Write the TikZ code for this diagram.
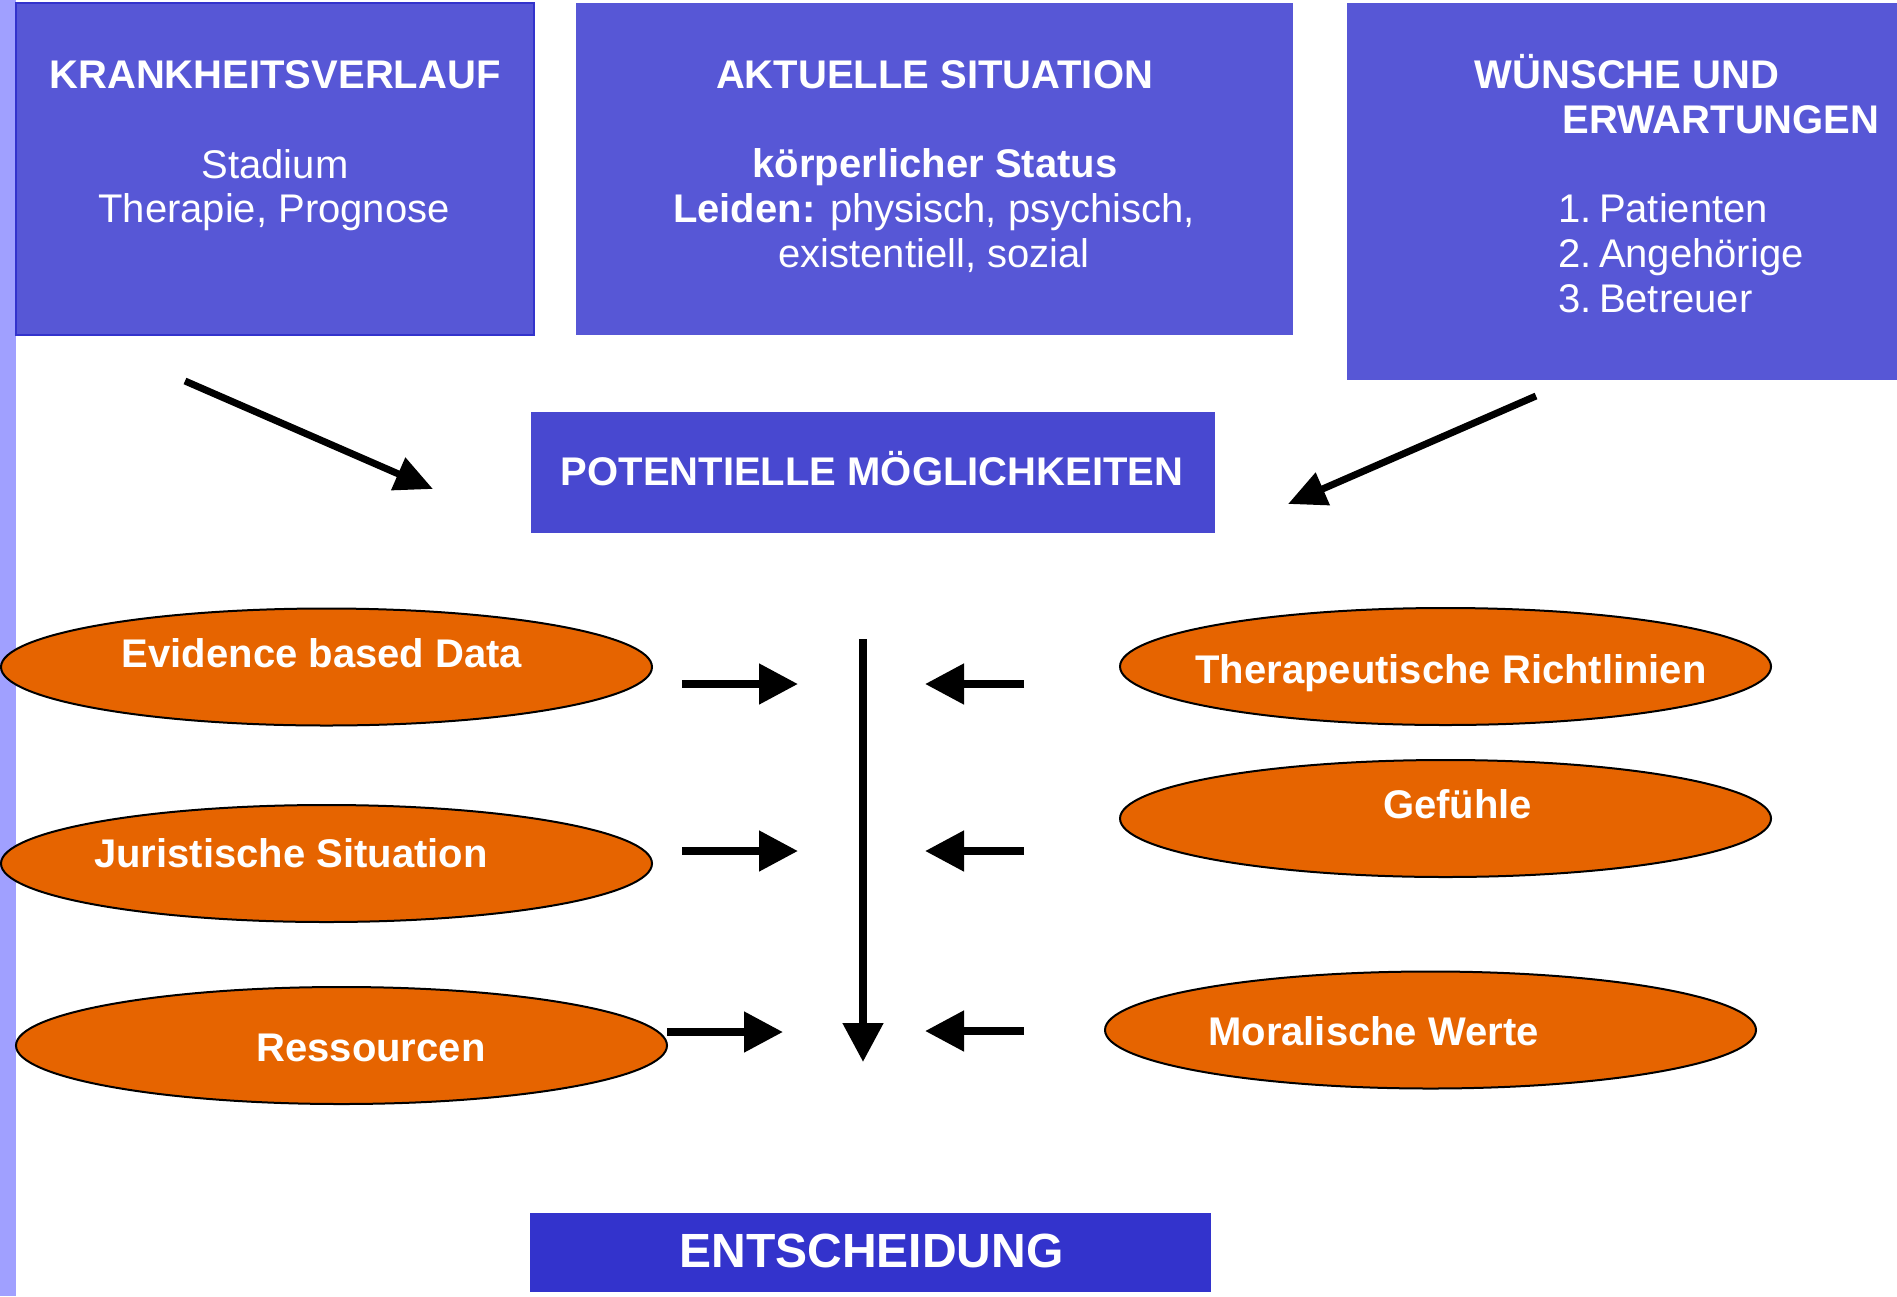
\documentclass[tikz,border=0pt]{standalone}
\usepackage{fontspec}
\setmainfont{Liberation Sans}
\usetikzlibrary{shapes.geometric,arrows.meta}
\definecolor{boxblue}{RGB}{87,87,214}
\definecolor{boxedge}{RGB}{51,51,204}
\definecolor{potblue}{RGB}{72,72,208}
\definecolor{entblue}{RGB}{51,51,204}
\definecolor{ovalorange}{RGB}{230,100,0}
\definecolor{stripblue}{RGB}{160,160,255}
\tikzset{
  bluebox/.style={rectangle, fill=boxblue, inner sep=0pt, anchor=center},
  oval/.style={ellipse, fill=ovalorange, draw=black, line width=2pt, inner sep=0pt, minimum width=651pt, minimum height=117pt},
  txt/.style={text=white, inner sep=0pt, anchor=base, font=\fontsize{40}{45}\selectfont},
  btxt/.style={txt, font=\fontsize{40}{45}\selectfont\bfseries},
  bigarrow/.style={line width=8pt, -{Triangle[length=39pt, width=39pt]}},
  diagarrow/.style={line width=7pt, -{Triangle[length=38pt, width=34pt]}}
}
\begin{document}
\begin{tikzpicture}[x=1pt,y=-1pt]
\useasboundingbox (0,0) rectangle (1897,1296);
\fill[white] (0,0) rectangle (1897,1296);
\fill[stripblue] (0,0) rectangle (16,1296);

% top boxes
\node[bluebox, draw=boxedge, line width=1.5pt, minimum width=518pt, minimum height=332pt] (b1) at (275,169) {};
\node[bluebox, minimum width=717pt, minimum height=332pt] (b2) at (934.5,169) {};
\node[bluebox, minimum width=550pt, minimum height=377pt] (b3) at (1622,191.5) {};

\node[btxt] (b1t) at (275,88) {KRANKHEITSVERLAUF};
\node[txt] (b1a) at (275,178) {Stadium};
\node[txt] (b1b) at (274,222) {Therapie, Prognose};

\node[btxt] (b2t) at (934.5,88) {AKTUELLE SITUATION};
\node[btxt] (b2a) at (935,177) {körperlicher Status};
\node[txt] (b2b) at (934,222) {\textbf{Leiden:} physisch, psychisch,};
\node[txt] (b2c) at (934,267) {existentiell, sozial};

\node[btxt] (b3t) at (1627,88) {WÜNSCHE UND};
\node[btxt] (b3u) at (1721,133) {ERWARTUNGEN};
\node[txt, anchor=base west] (b3a) at (1558,222) {1.\hspace{7.5pt}Patienten};
\node[txt, anchor=base west] (b3b) at (1558,267) {2.\hspace{7.5pt}Angehörige};
\node[txt, anchor=base west] (b3c) at (1558,312) {3.\hspace{7.5pt}Betreuer};

% middle box
\node[rectangle, fill=potblue, inner sep=0pt, minimum width=684pt, minimum height=121pt] (pot) at (873,472.5) {};
\node[btxt] (pott) at (872,485) {POTENTIELLE MÖGLICHKEITEN};

% bottom box
\node[rectangle, fill=entblue, inner sep=0pt, minimum width=681pt, minimum height=79pt] (ent) at (870.5,1252.5) {};
\node[txt, font=\fontsize{48}{52}\selectfont\bfseries] (entt) at (871.5,1267) {ENTSCHEIDUNG};

% ovals
\node[oval] (evd) at (326.5,667) {};
\node[btxt] (evdt) at (322,667) {Evidence based Data};
\node[oval] (jur) at (326.5,863.5) {};
\node[btxt] (jurt) at (291,867) {Juristische Situation};
\node[oval] (res) at (341.5,1045.5) {};
\node[btxt] (rest) at (371,1061) {Ressourcen};
\node[oval] (the) at (1445.5,666.5) {};
\node[btxt] (thet) at (1451,683) {Therapeutische Richtlinien};
\node[oval] (gef) at (1445.5,818.5) {};
\node[btxt] (geft) at (1457.5,818) {Gefühle};
\node[oval] (mor) at (1430.5,1030) {};
\node[btxt] (mort) at (1373.5,1045) {Moralische Werte};

% arrow end points
\coordinate (d1s) at (185,381);
\coordinate (d1e) at (433,489);
\coordinate (d2s) at (1536,396);
\coordinate (d2e) at (1288,504);
\coordinate (vs) at (863,639);
\coordinate (ve) at (863,1062);
\coordinate (r1s) at (682,684);
\coordinate (r1e) at (798,684);
\coordinate (r2s) at (682,851);
\coordinate (r2e) at (798,851);
\coordinate (r3s) at (667,1032);
\coordinate (r3e) at (783,1032);
\coordinate (l1s) at (1024,684);
\coordinate (l1e) at (925,684);
\coordinate (l2s) at (1024,851);
\coordinate (l2e) at (925,851);
\coordinate (l3s) at (1024,1031);
\coordinate (l3e) at (925,1031);

\draw[diagarrow] (d1s) -- (d1e);
\draw[diagarrow] (d2s) -- (d2e);
\draw[bigarrow] (vs) -- (ve);
\draw[bigarrow] (r1s) -- (r1e);
\draw[bigarrow] (r2s) -- (r2e);
\draw[bigarrow] (r3s) -- (r3e);
\draw[bigarrow] (l1s) -- (l1e);
\draw[bigarrow] (l2s) -- (l2e);
\draw[bigarrow] (l3s) -- (l3e);
\end{tikzpicture}
\end{document}
